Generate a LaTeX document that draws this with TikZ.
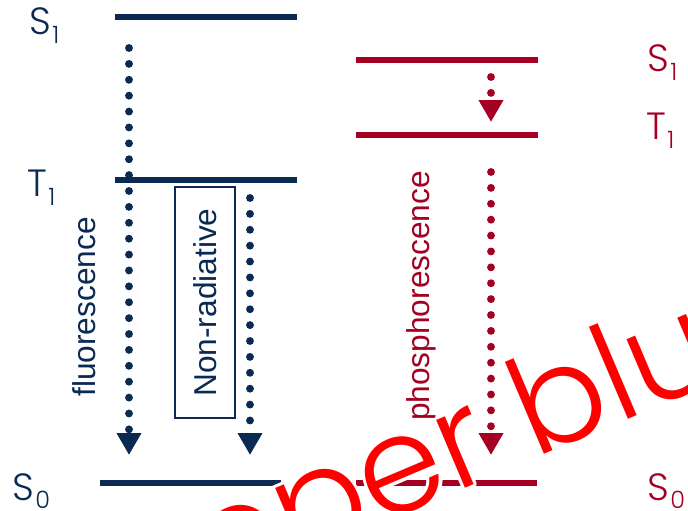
\documentclass[tikz,border=0pt]{standalone}
\usepackage{fontspec}
\setmainfont{Liberation Sans}
\newfontfamily\levelfont{Poppins Light}
\usepackage{contour}
\usetikzlibrary{arrows.meta}
\definecolor{navy}{HTML}{0A2A52}
\definecolor{crimson}{HTML}{A50021}
\contourlength{2.2pt}
\newcommand{\statesub}[1]{\kern1pt\raisebox{-5.7pt}{\fontsize{17}{17}\selectfont #1}}

\begin{document}
\begin{tikzpicture}[x=0.025cm, y=-0.025cm,
  levelline/.style={line width=4.8pt},
  decay/.style={line width=5.6pt, line cap=round, dash pattern=on 0pt off 11.3pt,
    -{Triangle[width=16.5pt,length=15.5pt]}},
  statelabel/.style={anchor=base west, inner sep=0pt,
    font=\levelfont\fontsize{27}{30}\selectfont},
  pathlabel/.style={rotate=90, inner sep=0pt, font=\fontsize{22.5}{26}\selectfont}]
\useasboundingbox (0,0) rectangle (688,511);
\clip (0,0) rectangle (688,511);

% fluorescent emitter
\draw[navy, levelline] (115,17) -- (297,17);
\draw[navy, levelline] (115,180) -- (297,180);
\draw[navy, levelline] (100,483) -- (281,483);
\node[statelabel, navy] (s1L) at (29,35) {S\statesub{1}};
\node[statelabel, navy] (t1L) at (27,197) {T\statesub{1}};
\node[statelabel, navy] (s0L) at (12,500) {S\statesub{0}};

\coordinate (fluoTop) at (129,48);
\coordinate (fluoEnd) at (129,455);
\draw[navy, decay] (fluoTop) -- (fluoEnd);
\node[pathlabel, navy] (fluo) at (84,307) {fluorescence};

\node[pathlabel, navy, draw, line width=1.2pt, minimum width=163.8pt,
  minimum height=42.5pt] (nonrad) at (205,302.5) {Non-radiative};
\coordinate (nrTop) at (250,198);
\coordinate (nrEnd) at (250,455);
\draw[navy, decay] (nrTop) -- (nrEnd);

% phosphorescent emitter
\draw[crimson, levelline] (356,60) -- (538,60);
\draw[crimson, levelline] (356,135) -- (538,135);
\draw[crimson, levelline] (356,483) -- (537,483);
\node[statelabel, crimson] (s1R) at (647,72) {S\statesub{1}};
\node[statelabel, crimson] (t1R) at (646,140) {T\statesub{1}};
\node[statelabel, crimson] (s0R) at (647,500) {S\statesub{0}};

\coordinate (iscTop) at (491,77);
\coordinate (iscEnd) at (491,122);
\draw[crimson, decay] (iscTop) -- (iscEnd);
\coordinate (phosTop) at (491,172);
\coordinate (phosEnd) at (491,455);
\draw[crimson, decay] (phosTop) -- (phosEnd);
\node[pathlabel, crimson] (phos) at (421,296) {phosphorescence};

% watermark
\node[rotate=23, anchor=base west, inner sep=0pt, text=red,
  font=\levelfont\fontsize{96}{100}\selectfont] (mark) at (534,459)
  {\contour{white}{\llap{Copper\ }blue}};
\end{tikzpicture}
\end{document}
